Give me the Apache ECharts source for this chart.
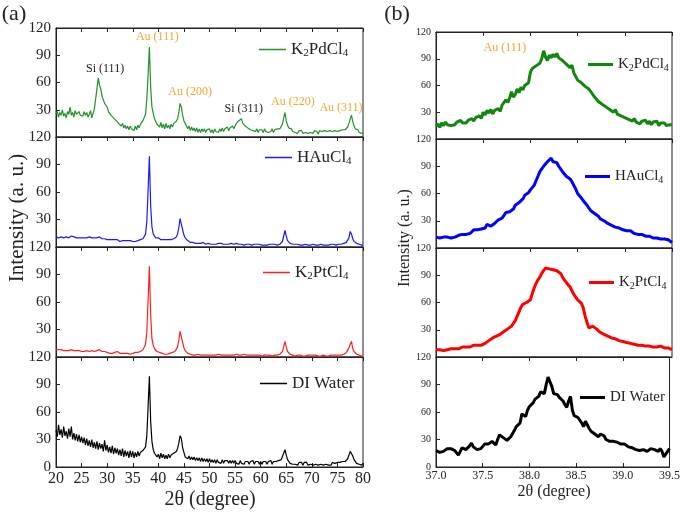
<!DOCTYPE html>
<html lang="en">
<head>
<meta charset="UTF-8">
<title>XRD patterns</title>
<script src="https://cdn.jsdelivr.net/npm/echarts@6/dist/echarts.min.js"></script>
<style>
  html, body { margin: 0; padding: 0; background: #fff; }
  #chart { width: 683px; height: 512px; }
</style>
</head>
<body>
<div id="chart"></div>
<script>
// (a) full scan, 20-80 deg
var twoThetaA = [
  20,20.25,20.5,20.75,21,21.25,21.5,21.75,22,22.25,22.5,22.75,23,23.25,23.5,23.75,24,24.25,24.5,24.75,
  25,25.25,25.5,25.75,26,26.25,26.5,26.75,27,27.25,27.5,27.75,28,28.25,28.5,28.75,29,29.25,29.5,29.75,
  30,30.25,30.5,30.75,31,31.25,31.5,31.75,32,32.25,32.5,32.75,33,33.25,33.5,33.75,34,34.25,34.5,34.75,
  35,35.25,35.5,35.75,36,36.25,36.5,36.75,37,37.25,37.5,37.75,38,38.25,38.5,38.75,39,39.25,39.5,39.75,
  40,40.25,40.5,40.75,41,41.25,41.5,41.75,42,42.25,42.5,42.75,43,43.25,43.5,43.75,44,44.25,44.5,44.75,
  45,45.25,45.5,45.75,46,46.25,46.5,46.75,47,47.25,47.5,47.75,48,48.25,48.5,48.75,49,49.25,49.5,49.75,
  50,50.25,50.5,50.75,51,51.25,51.5,51.75,52,52.25,52.5,52.75,53,53.25,53.5,53.75,54,54.25,54.5,54.75,
  55,55.25,55.5,55.75,56,56.25,56.5,56.75,57,57.25,57.5,57.75,58,58.25,58.5,58.75,59,59.25,59.5,59.75,
  60,60.25,60.5,60.75,61,61.25,61.5,61.75,62,62.25,62.5,62.75,63,63.25,63.5,63.75,64,64.25,64.5,64.75,
  65,65.25,65.5,65.75,66,66.25,66.5,66.75,67,67.25,67.5,67.75,68,68.25,68.5,68.75,69,69.25,69.5,69.75,
  70,70.25,70.5,70.75,71,71.25,71.5,71.75,72,72.25,72.5,72.75,73,73.25,73.5,73.75,74,74.25,74.5,74.75,
  75,75.25,75.5,75.75,76,76.25,76.5,76.75,77,77.25,77.5,77.75,78,78.25,78.5,78.75,79,79.25,79.5,79.75,
  80
];
var pdA = [
  25,28,22,27,24,30,23,26,21,28,25,33,24,27,22,29,25,23,28,24,
  26,23,28,24,27,22,25,29,21,26,31,42,53,65,57,53,45,44,37,35,
  33,28,30,24,26,21,23,18,20,15,17,12,15,10,13,9,12,8,12,9,
  11,7,12,8,13,10,14,13,18,20,25,42,68,99,55,33,26,20,18,14,
  15,11,16,10,14,9,15,10,13,9,14,11,15,13,17,20,27,37,33,24,
  18,15,13,9,12,7,11,7,10,6,10,5,9,5,9,6,9,5,8,6,
  9,5,8,4,9,6,8,5,9,6,10,6,9,7,11,7,10,8,12,9,
  12,15,13,18,17,20,15,16,12,13,10,11,8,10,7,9,6,9,5,8,
  6,8,5,9,6,8,5,7,6,9,5,8,6,9,7,9,10,14,21,27,
  18,13,10,8,9,6,8,5,7,4,7,5,7,4,6,5,7,4,6,5,
  6,4,7,5,6,3,7,5,6,4,7,5,6,4,7,5,6,4,7,5,
  6,5,7,5,8,6,8,8,11,15,20,24,17,12,9,7,8,5,6,4,
  5
];
var auA = [
  11,12,10,12,11,13,10,12,11,12,10,11,12,10,11,12,10,11,10,11,
  10,11,10,11,10,9,11,10,10,9,10,9,10,12,11,9,9,8,9,8,
  8,9,8,7,8,7,8,7,8,7,6,8,7,6,7,6,7,6,7,6,
  6,7,6,7,7,6,8,8,9,11,14,28,62,99,45,22,14,12,10,9,
  10,9,8,9,8,7,8,7,8,7,8,8,9,9,11,14,21,31,29,19,
  13,10,8,7,6,5,6,5,5,4,5,4,5,4,4,5,4,3,4,4,
  4,3,4,3,4,3,3,4,3,4,3,3,4,3,4,3,3,4,3,3,
  3,4,3,3,4,3,3,2,3,3,2,3,3,2,3,3,2,3,2,3,
  3,2,3,2,3,2,2,3,2,3,2,3,3,2,3,3,4,6,12,18,
  12,7,5,4,3,3,2,3,2,3,2,2,3,2,2,3,2,2,3,2,
  2,3,2,2,3,2,2,3,2,2,3,2,3,2,2,3,2,3,3,2,
  3,3,2,3,3,4,4,5,7,10,17,14,9,6,5,4,3,3,2,2,
  2
];
var ptA = [
  8,7,8,7,8,8,7,8,7,8,7,7,8,7,7,8,7,6,7,7,
  6,7,6,6,7,6,6,6,7,6,6,6,7,9,8,6,6,5,6,5,
  5,5,4,5,4,4,5,4,6,4,4,5,4,4,4,5,4,4,3,4,
  4,4,5,4,5,5,6,6,8,10,14,27,62,99,46,20,13,9,7,6,
  5,5,4,4,4,3,4,3,4,4,4,5,5,6,8,11,18,28,27,16,
  10,7,5,4,3,3,3,2,3,2,2,3,2,2,2,2,2,2,2,2,
  2,2,3,2,2,2,2,3,2,2,2,2,3,2,2,2,3,2,2,2,
  2,3,2,2,3,2,2,3,2,2,2,2,2,2,2,2,2,2,1,2,
  2,1,2,2,1,2,2,2,2,1,2,2,2,2,3,3,4,6,11,17,
  11,6,4,3,2,2,2,1,2,2,1,2,2,1,2,1,2,2,1,2,
  1,2,1,2,1,1,2,1,1,2,1,1,2,1,1,2,1,2,2,2,
  2,2,2,2,3,3,4,5,7,10,14,17,9,6,4,3,2,2,1,1,
  1
];
var waterA = [
  40,33,46,35,41,32,44,34,39,31,42,33,44,30,37,29,36,28,35,27,
  33,26,32,24,31,23,29,22,30,21,27,20,28,19,26,20,25,17,29,18,
  24,16,22,15,23,14,21,15,20,13,19,12,20,11,18,12,17,10,18,11,
  17,10,16,11,17,12,16,14,18,17,22,34,66,99,50,28,19,15,16,11,
  14,9,15,10,14,9,13,9,14,10,13,11,15,13,17,20,26,34,31,21,
  16,11,13,9,12,8,11,8,11,7,10,7,10,6,10,6,9,6,9,5,
  9,5,8,5,8,4,8,5,7,4,8,4,7,5,7,4,7,4,7,4,
  7,4,6,3,7,4,6,3,6,4,6,3,6,4,7,3,6,4,6,3,
  6,3,6,4,6,3,6,4,7,3,6,4,6,4,7,5,8,10,15,19,
  13,8,7,4,6,3,5,3,5,2,5,3,5,2,5,3,5,2,4,3,
  5,2,4,3,5,2,4,3,5,2,4,3,5,2,4,2,5,3,4,3,
  5,3,5,3,6,4,6,7,9,13,17,18,12,8,6,4,5,3,4,2,
  4
];

// (b) Au (111) region, 37.0-39.5 deg
var twoThetaB = [
  37,37.02,37.04,37.06,37.08,37.1,37.12,37.14,37.16,37.18,37.2,37.22,37.24,37.26,37.28,37.3,37.32,37.34,37.36,37.38,37.4,37.42,37.44,37.46,37.48,
  37.5,37.52,37.54,37.56,37.58,37.6,37.62,37.64,37.66,37.68,37.7,37.72,37.74,37.76,37.78,37.8,37.82,37.84,37.86,37.88,37.9,37.92,37.94,37.96,37.98,
  38,38.02,38.04,38.06,38.08,38.1,38.12,38.14,38.16,38.18,38.2,38.22,38.24,38.26,38.28,38.3,38.32,38.34,38.36,38.38,38.4,38.42,38.44,38.46,38.48,
  38.5,38.52,38.54,38.56,38.58,38.6,38.62,38.64,38.66,38.68,38.7,38.72,38.74,38.76,38.78,38.8,38.82,38.84,38.86,38.88,38.9,38.92,38.94,38.96,38.98,
  39,39.02,39.04,39.06,39.08,39.1,39.12,39.14,39.16,39.18,39.2,39.22,39.24,39.26,39.28,39.3,39.32,39.34,39.36,39.38,39.4,39.42,39.44,39.46,39.48,
  39.5
];
var pdB = [
  14,17,13,18,15,19,16,17,15,16,16,19,17,21,18,20,18,21,19,23,20,24,22,26,23,
  30,27,32,29,33,28,32,30,34,31,38,40,44,41,46,53,47,50,56,52,58,55,60,58,63,
  75,79,77,82,80,85,90,99,92,88,94,91,95,92,96,91,93,88,90,84,86,80,83,74,72,
  66,68,63,65,59,61,56,53,50,47,45,42,44,39,40,36,38,33,35,30,33,28,30,26,28,
  24,26,22,24,20,23,19,21,17,20,18,21,17,20,16,19,17,20,15,18,16,18,15,17,16,
  16
];
var auB = [
  12,13,11,13,12,14,12,13,11,12,12,13,14,13,15,16,15,17,16,18,20,18,20,19,21,
  23,22,26,28,24,23,27,29,31,32,33,36,39,40,40,41,43,47,46,50,52,54,58,57,61,
  64,66,69,74,79,84,87,90,91,95,94,99,95,93,94,90,88,84,85,79,77,76,73,69,65,
  60,58,55,52,50,47,45,41,39,38,36,35,32,31,30,29,27,26,25,24,23,22,22,21,20,
  20,19,18,19,17,16,17,15,14,15,14,13,15,13,12,11,13,11,10,10,9,10,8,9,8,
  6
];
var ptB = [
  8,7,8,8,7,9,8,9,9,8,9,10,9,10,11,10,11,12,11,12,13,12,13,14,13,
  14,15,16,18,19,21,22,23,24,25,27,28,29,31,32,34,37,40,45,50,55,58,59,60,61,
  63,70,76,81,85,88,92,95,98,100,97,98,96,97,95,94,92,88,85,82,80,77,73,69,66,
  63,61,59,54,45,38,32,33,34,33,31,29,27,26,25,24,23,22,21,20,20,19,18,18,17,
  16,16,15,15,14,14,14,13,13,13,12,12,13,12,12,11,12,11,11,12,10,10,9,10,8,
  8
];
var waterB = [
  18,17,16,15,17,19,20,21,20,22,18,16,13,17,21,20,19,18,23,26,22,20,19,21,20,
  22,25,27,25,24,28,27,24,30,35,34,32,30,29,31,33,35,40,44,43,48,58,57,55,62,
  66,68,70,74,76,77,82,84,80,90,98,93,88,80,78,79,76,74,72,68,65,72,77,62,56,
  55,54,52,48,44,50,48,42,39,37,36,34,33,36,38,34,30,29,28,27,28,28,27,26,25,
  24,25,24,22,23,21,20,19,17,18,20,19,18,17,19,20,21,19,18,17,20,17,11,13,17,
  20
];

var sampleNames = ['K2PdCl4', 'HAuCl4', 'K2PtCl4', 'DI Water'];
var peakNamesA = ['Si (111)', 'Au (111)', 'Au (200)', 'Si (311)', 'Au (220)', 'Au (311)'];
var peakNameB = 'Au (111)';

var FONT = '"Liberation Serif", "Times New Roman", serif';
var INK = '#222';
var ORANGE = '#F6A431';
var coloursA = ['#23922a', '#1a1aff', '#ff1f1f', '#000000'];
var coloursB = ['#11870f', '#0000ff', '#ff0000', '#000000'];

function pairs(xs, ys) {
  return xs.map(function (x, i) { return [x, ys[i]]; });
}

// chemical formula -> rich text with subscript digits
function formula(name) {
  var label = name.replace(/ \([ab]\)$/, '');
  return label.replace(/\d/g, function (d) { return '{s|' + d + '}'; });
}

var gridsA = [[28, 109], [137, 110], [247, 110], [357, 110]];
var gridsB = [[32, 107], [139, 109], [248, 109], [357, 110]];

var grid = [], xAxis = [], yAxis = [], series = [], legend = [];

function addPanel(side, i) {
  var isA = side === 'a';
  var g = grid.length;
  var box = isA ? gridsA[i] : gridsB[i];
  var last = i === 3;
  var colour = (isA ? coloursA : coloursB)[i];
  grid.push({
    left: isA ? 56 : 436, width: isA ? 307 : 236, top: box[0], height: box[1],
    show: true, borderColor: INK, borderWidth: 1
  });
  var base = {
    gridIndex: g, type: 'value',
    min: isA ? 20 : 37, max: isA ? 80 : 39.5, interval: isA ? 5 : 0.5,
    axisLine: { show: true, lineStyle: { color: INK, width: 1 } },
    splitLine: { show: false }
  };
  // bottom axis
  xAxis.push(Object.assign({}, base, {
    position: 'bottom',
    axisTick: { show: last, inside: true, length: 4, lineStyle: { color: INK } },
    axisLabel: {
      show: last, color: INK, fontFamily: FONT, fontSize: isA ? 16 : 12, margin: isA ? 4 : 3,
      formatter: isA ? '{value}' : function (v) { return v.toFixed(1); }
    }
  }));
  // top axis, ticks pointing down into the panel
  xAxis.push(Object.assign({}, base, {
    position: 'top',
    axisTick: { show: true, inside: true, length: 4, lineStyle: { color: INK } },
    axisLabel: { show: false }
  }));
  yAxis.push({
    gridIndex: g, type: 'value', min: 0, max: 120, interval: 30,
    axisLine: { show: true, lineStyle: { color: INK } },
    axisTick: { show: true, inside: true, length: 4, lineStyle: { color: INK } },
    axisLabel: { color: INK, fontFamily: FONT, fontSize: isA ? 15 : 10, margin: 5, showMinLabel: last },
    splitLine: { show: false }
  });

  var ys = isA ? [pdA, auA, ptA, waterA][i] : [pdB, auB, ptB, waterB][i];
  var name = sampleNames[i] + (isA ? ' (a)' : ' (b)');
  var s = {
    name: name, type: 'line', xAxisIndex: 2 * g, yAxisIndex: g,
    data: pairs(isA ? twoThetaA : twoThetaB, ys),
    symbol: 'none', showSymbol: false,
    lineStyle: { color: colour, width: isA ? 1.2 : 3 },
    itemStyle: { color: colour },
    z: 3
  };
  if (i === 0) {
    var marks = isA ? [
      { name: peakNamesA[0], coord: [29.6, 75], c: INK },
      { name: peakNamesA[1], coord: [39.8, 110], c: ORANGE },
      { name: peakNamesA[2], coord: [46.2, 49.5], c: ORANGE },
      { name: peakNamesA[3], coord: [56.7, 30.8], c: INK },
      { name: peakNamesA[4], coord: [66.3, 38.5], c: ORANGE },
      { name: peakNamesA[5], coord: [75.7, 32], c: ORANGE }
    ] : [
      { name: peakNameB, coord: [37.73, 102.6], c: ORANGE }
    ];
    s.markPoint = {
      symbol: 'circle', symbolSize: 1, silent: true,
      itemStyle: { color: 'rgba(0,0,0,0)' },
      label: { show: true, position: 'inside', formatter: '{b}', fontFamily: FONT, fontSize: 12 },
      data: marks.map(function (m) {
        return { name: m.name, coord: m.coord, label: { color: m.c } };
      })
    };
  }
  series.push(s);

  var legPos = isA ? [[259, 41], [265, 149], [263, 264], [260, 375]][i]
                   : [[588, 57], [585, 169], [589, 275], [580, 390]][i];
  legend.push({
    data: [name], left: legPos[0], top: legPos[1], padding: 0,
    icon: 'rect', itemWidth: isA ? 27 : 25, itemHeight: isA ? 1.5 : 3, itemGap: 4,
    itemStyle: { color: colour, borderWidth: 0 },
    lineStyle: { width: 0 },
    selectedMode: false,
    formatter: formula,
    textStyle: {
      color: INK, fontFamily: FONT, fontSize: isA ? 17 : 15,
      rich: { s: { color: INK, fontFamily: FONT, fontSize: isA ? 11 : 10, padding: [isA ? 8 : 7, 0, 0, 0] } }
    }
  });
}

for (var i = 0; i < 4; i++) addPanel('a', i);
for (var j = 0; j < 4; j++) addPanel('b', j);

function label(text, x, y, size, rot) {
  return {
    type: 'text', x: x, y: y, rotation: rot || 0, silent: true,
    style: { text: text, fill: INK, fontFamily: FONT, fontSize: size, align: 'center', verticalAlign: 'middle' }
  };
}

var option = {
  animation: false,
  backgroundColor: '#fff',
  textStyle: { fontFamily: FONT },
  grid: grid, xAxis: xAxis, yAxis: yAxis, series: series, legend: legend,
  graphic: [
    label('(a)', 14, 14, 22),
    label('(b)', 397, 14, 22),
    label('Intensity (a. u.)', 17, 218, 21, Math.PI / 2),
    label('Intensity (a. u.)', 405, 238, 16, Math.PI / 2),
    label('2\u03b8 (degree)', 210, 500, 20),
    label('2\u03b8 (degree)', 554, 492, 16)
  ]
};

echarts.init(document.getElementById('chart')).setOption(option);
</script>
</body>
</html>
